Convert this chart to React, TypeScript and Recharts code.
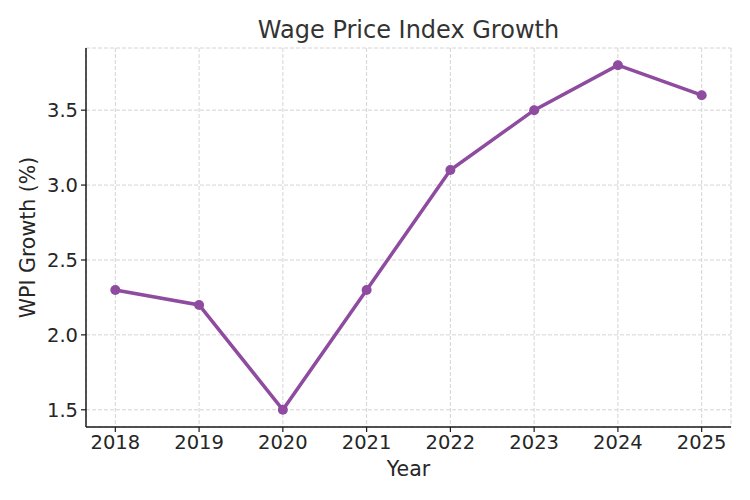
import { LineChart, Line, XAxis, YAxis, CartesianGrid } from 'recharts';

const years = [2018, 2019, 2020, 2021, 2022, 2023, 2024, 2025];
const wpiGrowth = [2.3, 2.2, 1.5, 2.3, 3.1, 3.5, 3.8, 3.6];
const yTicks = [1.5, 2.0, 2.5, 3.0, 3.5];

const data = years.map((year, i) => ({ year, wpi: wpiGrowth[i] }));

const FONT = '"DejaVu Sans", sans-serif';
const PURPLE = '#8e4b9f';
const INK = '#262626';

// rotated axis title, baseline sits just left of the tick labels
const YLabel = (props: any) => {
  const { viewBox } = props;
  const cx = 35;
  const cy = viewBox.y + viewBox.height / 2;
  return (
    <text
      x={cx}
      y={cy}
      transform={`rotate(-90 ${cx} ${cy})`}
      textAnchor="middle"
      fill={INK}
      fontFamily={FONT}
      fontSize={20.5}
    >
      WPI Growth (%)
    </text>
  );
};

const XLabel = (props: any) => {
  const { viewBox } = props;
  const cx = viewBox.x + viewBox.width / 2;
  return (
    <text x={cx} y={476} textAnchor="middle" fill={INK} fontFamily={FONT} fontSize={20.5}>
      Year
    </text>
  );
};

export default function App() {
  return (
    <div style={{ position: 'absolute', left: 0, top: 0, width: 750, height: 500, background: '#fff' }}>
      <svg width={750} height={60} style={{ position: 'absolute', left: 0, top: 0 }}>
        <text x={408.5} y={37.5} textAnchor="middle" fill="#333333" fontFamily={FONT} fontSize={24}>
          Wage Price Index Growth
        </text>
      </svg>
      <LineChart
        width={750}
        height={500}
        data={data}
        margin={{ top: 48, right: 19, left: 0, bottom: 0 }}
      >
        <CartesianGrid stroke="#d4d4d4" strokeDasharray="4 2" strokeWidth={1} />
        <XAxis
          dataKey="year"
          type="number"
          domain={[2017.65, 2025.35]}
          allowDataOverflow
          ticks={years}
          height={73}
          tick={{ fill: INK, fontSize: 19.5, fontFamily: FONT }}
          tickSize={5}
          tickMargin={3}
          axisLine={{ stroke: '#1a1a1a', strokeWidth: 1.5 }}
          tickLine={{ stroke: '#1a1a1a', strokeWidth: 1.2 }}
          label={<XLabel />}
        />
        <YAxis
          type="number"
          domain={[1.385, 3.915]}
          allowDataOverflow
          ticks={yTicks}
          width={86}
          tickFormatter={(v: number) => v.toFixed(1)}
          tick={{ fill: INK, fontSize: 19.5, fontFamily: FONT }}
          tickSize={5}
          tickMargin={3}
          axisLine={{ stroke: '#1a1a1a', strokeWidth: 1.5 }}
          tickLine={{ stroke: '#1a1a1a', strokeWidth: 1.2 }}
          label={<YLabel />}
        />
        <Line
          type="linear"
          dataKey="wpi"
          stroke={PURPLE}
          strokeWidth={3.5}
          dot={{ r: 5, fill: PURPLE, stroke: PURPLE, strokeWidth: 0 }}
          activeDot={false}
          isAnimationActive={false}
        />
      </LineChart>
    </div>
  );
}
